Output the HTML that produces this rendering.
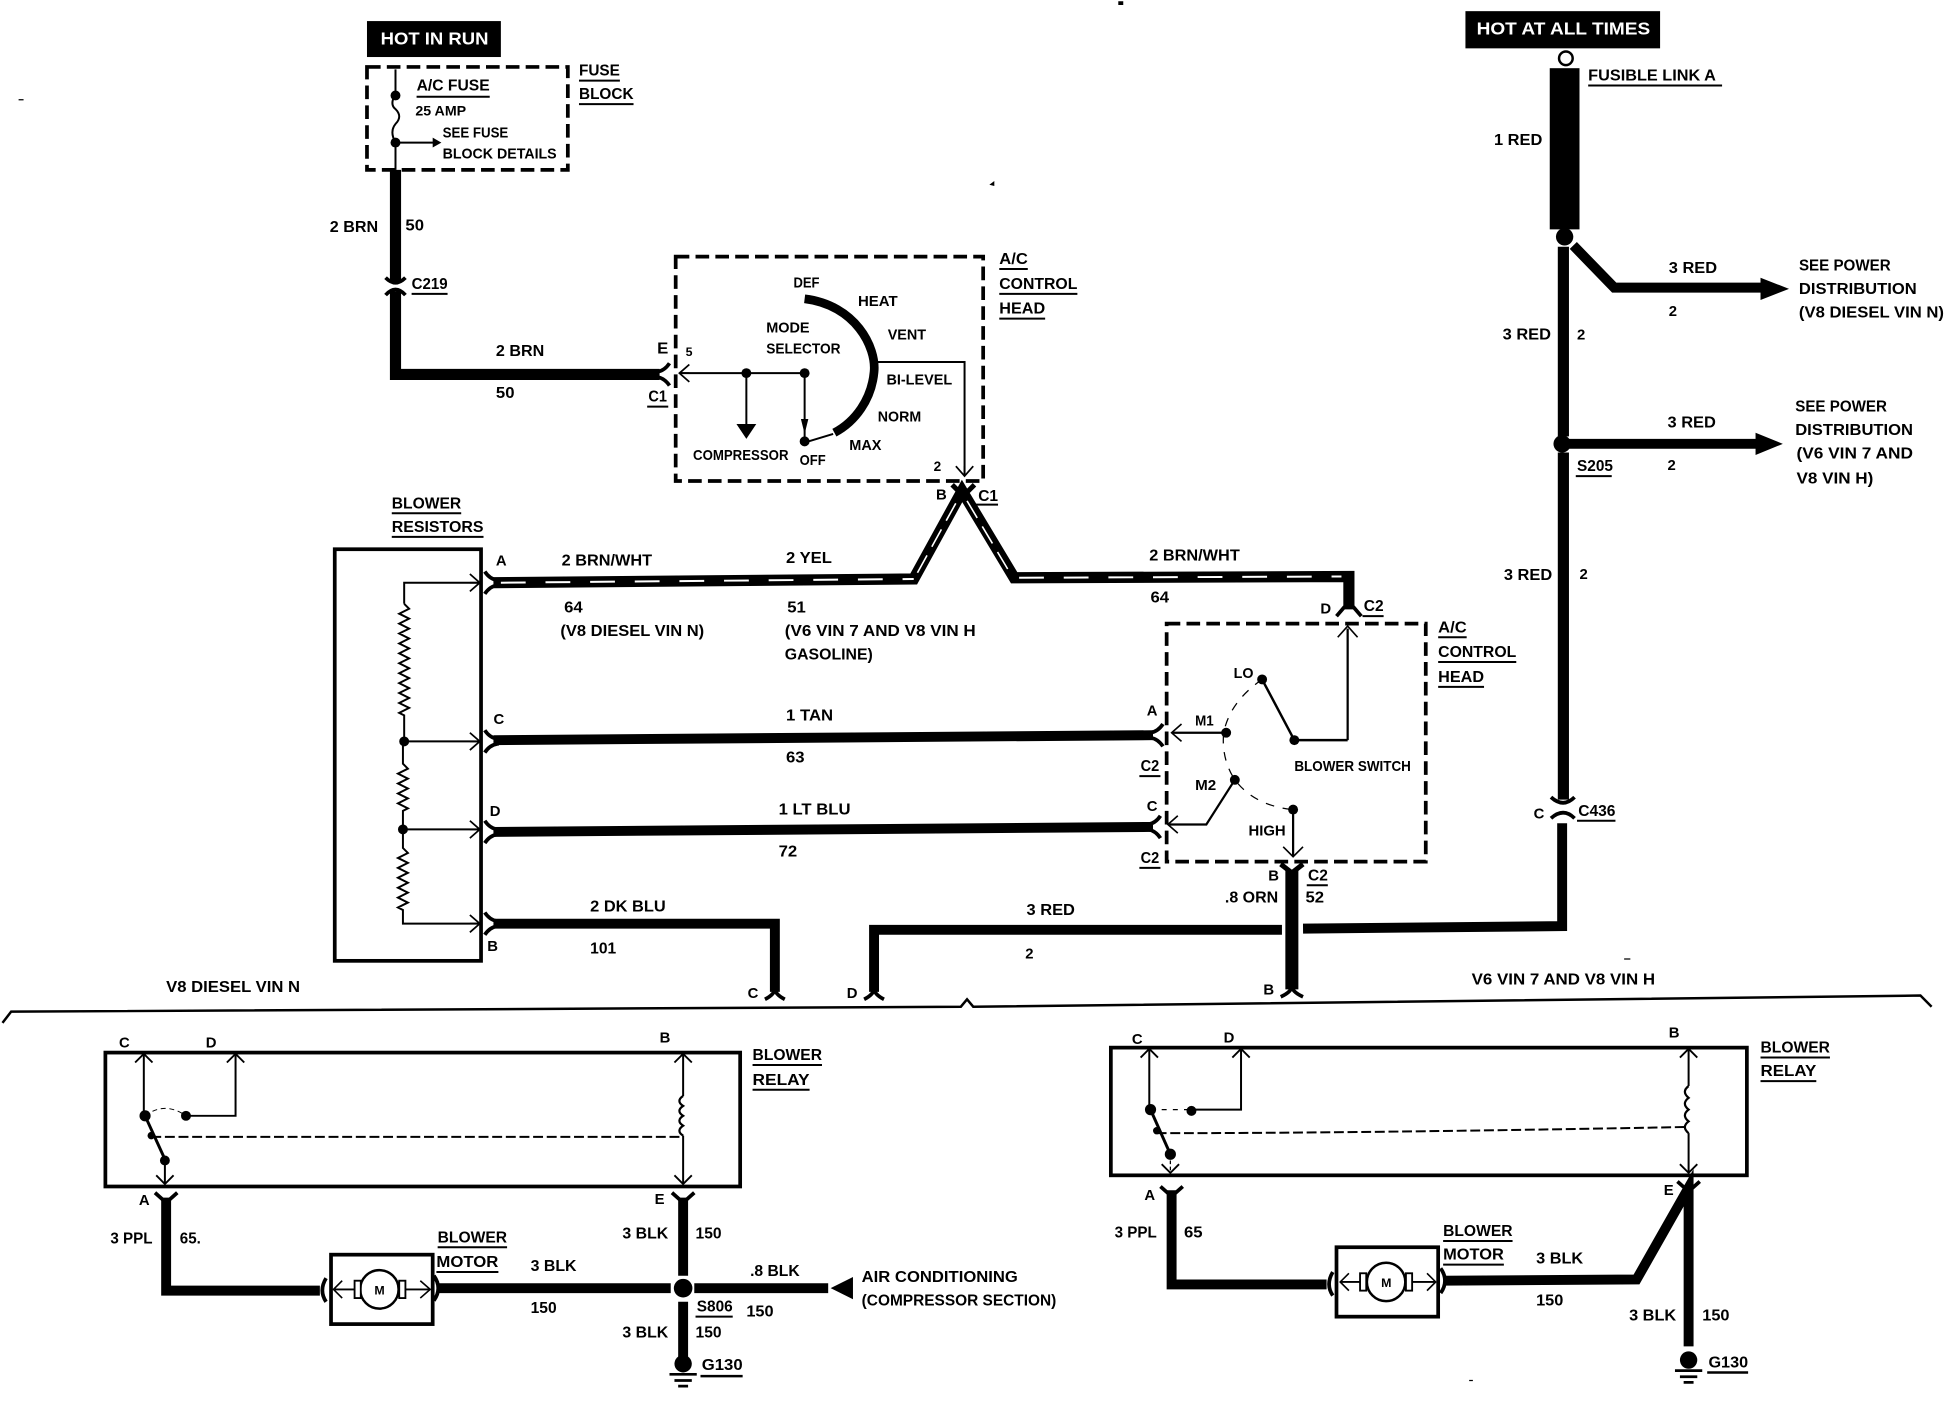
<!DOCTYPE html>
<html><head><meta charset="utf-8"><style>
html,body{margin:0;padding:0;background:#fff}
svg{display:block}
text{font-family:"Liberation Sans",sans-serif;font-weight:bold;font-size:13px;fill:#000}
.t{fill:none;stroke:#000;stroke-width:1.6}
.w{fill:none;stroke:#000;stroke-width:8;stroke-linejoin:miter}
.d{fill:none;stroke:#000;stroke-width:3;stroke-dasharray:11 5}
.b{fill:none;stroke:#000;stroke-width:3}
</style></head><body>
<svg width="1944" height="1408" viewBox="0 0 1568 1135.67" xmlns="http://www.w3.org/2000/svg">
<defs>
<g id="c"><path d="M5,-9 Q1,-3 -5,-2 L-5,2 Q1,3 5,9" fill="none" stroke="#000" stroke-width="3"/></g>
<g id="a"><path d="M-8,-7 L0,0 L-8,7 M-8,0 L0,0" fill="none" stroke="#000" stroke-width="1.4"/></g>
<g id="gnd"><circle r="7" fill="#000"/><path d="M-11,8.5 H11 M-7,13.5 H7 M-4,18 H4" stroke="#000" stroke-width="2.2"/></g>
</defs>

<!-- top-left -->
<rect x="296" y="17" width="108" height="29" fill="#000"/>
<text x="307" y="36" textLength="87" lengthAdjust="spacingAndGlyphs" style="fill:#fff;font-size:14px">HOT IN RUN</text>
<rect class="d" x="296" y="54" width="162" height="83"/>
<path class="t" d="M319,56 V76 M319,115 V137 M319,76 Q314,84 319,88 Q325,94 319,100 Q314,106 319,115 M319,115 H350"/>
<path d="M349,111 L356,115 L349,119Z"/>
<circle cx="319" cy="77" r="4"/><circle cx="319" cy="115" r="4"/>
<text x="336" y="73" textLength="59" lengthAdjust="spacingAndGlyphs">A/C FUSE</text><path class="t" d="M336,78 H395"/>
<text x="335" y="93" textLength="41" lengthAdjust="spacingAndGlyphs" style="font-size:11px">25 AMP</text>
<text x="357" y="111" textLength="53" lengthAdjust="spacingAndGlyphs" style="font-size:12px">SEE FUSE</text>
<text x="357" y="128" textLength="92" lengthAdjust="spacingAndGlyphs" style="font-size:12px">BLOCK DETAILS</text>
<text x="467" y="61" textLength="33" lengthAdjust="spacingAndGlyphs">FUSE</text><path class="t" d="M467,65 H500"/>
<text x="467" y="80" textLength="44" lengthAdjust="spacingAndGlyphs">BLOCK</text><path class="t" d="M467,84 H511"/>

<path class="w" d="M319,137 V227 M319,235 V302 H532" style="stroke-width:9"/>
<path d="M311,224 Q319,232 327,224 M311,238 Q319,229 327,238" fill="none" stroke="#000" stroke-width="3"/>
<use href="#c" transform="translate(535,302)"/>
<text x="266" y="187" textLength="39" lengthAdjust="spacingAndGlyphs">2 BRN</text>
<text x="327" y="186" textLength="15" lengthAdjust="spacingAndGlyphs">50</text>
<text x="332" y="233" textLength="29" lengthAdjust="spacingAndGlyphs">C219</text><path class="t" d="M332,237 H361"/>
<text x="400" y="287" textLength="39" lengthAdjust="spacingAndGlyphs">2 BRN</text>
<text x="400" y="321" textLength="15" lengthAdjust="spacingAndGlyphs">50</text>
<text x="530" y="285" textLength="9" lengthAdjust="spacingAndGlyphs">E</text>
<text x="553" y="287" style="font-size:10px">5</text>
<text x="523" y="324" textLength="15" lengthAdjust="spacingAndGlyphs">C1</text><path class="t" d="M522,328 H539"/>

<!-- A/C control head mode -->
<rect class="d" x="545" y="207" width="248" height="181"/>
<path d="M649,241 C690,246 707,280 705,300 C703,322 690,340 673,349" fill="none" stroke="#000" stroke-width="7"/>
<path class="t" d="M548,301 H649 M602,301 V345 M649,301 V356 M649,357 L672,350 M706,292 H778 V382"/>
<g transform="translate(548,301) rotate(180)"><use href="#a"/></g>
<path d="M594,342 H610 L602,354Z"/><path d="M646,338 H652 L649,350Z"/>
<circle cx="602" cy="301" r="4"/><circle cx="649" cy="301" r="4"/><circle cx="649" cy="356" r="4"/>
<g transform="translate(778,384) rotate(90)"><use href="#a"/></g>
<text x="640" y="232" textLength="21" lengthAdjust="spacingAndGlyphs" style="font-size:12px">DEF</text>
<text x="692" y="247" textLength="32" lengthAdjust="spacingAndGlyphs" style="font-size:12px">HEAT</text>
<text x="618" y="268" textLength="35" lengthAdjust="spacingAndGlyphs" style="font-size:12px">MODE</text>
<text x="618" y="285" textLength="60" lengthAdjust="spacingAndGlyphs" style="font-size:12px">SELECTOR</text>
<text x="716" y="274" textLength="31" lengthAdjust="spacingAndGlyphs" style="font-size:12px">VENT</text>
<text x="715" y="310" textLength="53" lengthAdjust="spacingAndGlyphs" style="font-size:12px">BI-LEVEL</text>
<text x="708" y="340" textLength="35" lengthAdjust="spacingAndGlyphs" style="font-size:12px">NORM</text>
<text x="685" y="363" textLength="26" lengthAdjust="spacingAndGlyphs" style="font-size:12px">MAX</text>
<text x="559" y="371" textLength="77" lengthAdjust="spacingAndGlyphs" style="font-size:12px">COMPRESSOR</text>
<text x="645" y="375" textLength="21" lengthAdjust="spacingAndGlyphs" style="font-size:12px">OFF</text>
<text x="753" y="380" style="font-size:11px">2</text>
<text x="806" y="213" textLength="23" lengthAdjust="spacingAndGlyphs">A/C</text><path class="t" d="M806,217 H829"/>
<text x="806" y="233" textLength="63" lengthAdjust="spacingAndGlyphs">CONTROL</text><path class="t" d="M806,237 H869"/>
<text x="806" y="253" textLength="37" lengthAdjust="spacingAndGlyphs">HEAD</text><path class="t" d="M806,257 H843"/>
<text x="755" y="403" style="font-size:12px">B</text>
<text x="789" y="404" textLength="16" lengthAdjust="spacingAndGlyphs">C1</text><path class="t" d="M787,407 H805"/>
<path d="M768,391 L777,400 L786,391" fill="none" stroke="#000" stroke-width="4"/>

<!-- striped wire -->
<path d="M398,470 L737,467 L776,396 L818,466 L1088,465 L1088,490" fill="none" stroke="#000" stroke-width="9"/>
<path d="M404,470 L737,467" fill="none" stroke="#fff" stroke-width="1.6" stroke-dasharray="20 16"/>
<path d="M740,462 L772,404 M780,404 L814,461" fill="none" stroke="#fff" stroke-width="1.3" stroke-dasharray="16 8"/>
<path d="M822,466 L1082,465" fill="none" stroke="#fff" stroke-width="1.6" stroke-dasharray="20 16"/>
<path d="M1078,497 L1084,490 H1092 L1098,497" fill="none" stroke="#000" stroke-width="3"/>
<text x="453" y="456" textLength="73" lengthAdjust="spacingAndGlyphs">2 BRN/WHT</text>
<text x="634" y="454" textLength="37" lengthAdjust="spacingAndGlyphs">2 YEL</text>
<text x="927" y="452" textLength="73" lengthAdjust="spacingAndGlyphs">2 BRN/WHT</text>
<text x="455" y="494" textLength="15" lengthAdjust="spacingAndGlyphs">64</text>
<text x="452" y="513" textLength="116" lengthAdjust="spacingAndGlyphs">(V8 DIESEL VIN N)</text>
<text x="635" y="494" textLength="15" lengthAdjust="spacingAndGlyphs">51</text>
<text x="633" y="513" textLength="154" lengthAdjust="spacingAndGlyphs">(V6 VIN 7 AND V8 VIN H</text>
<text x="633" y="532" textLength="71" lengthAdjust="spacingAndGlyphs">GASOLINE)</text>
<text x="928" y="486" textLength="15" lengthAdjust="spacingAndGlyphs">64</text>
<text x="1065" y="495" style="font-size:12px">D</text>
<text x="1100" y="493" textLength="16" lengthAdjust="spacingAndGlyphs">C2</text><path class="t" d="M1099,497 H1116"/>

<!-- resistors -->
<text x="316" y="410" textLength="56" lengthAdjust="spacingAndGlyphs">BLOWER</text><path class="t" d="M316,414 H372"/>
<text x="316" y="429" textLength="74" lengthAdjust="spacingAndGlyphs">RESISTORS</text><path class="t" d="M316,433 H390"/>
<rect class="b" x="270" y="443" width="118" height="332"/>
<path class="t" d="M387,470 H326 V487 M326,487 l4,4 l-8,4 l8,4 l-8,4 l8,4 l-8,4 l8,4 l-8,4 l8,4 l-8,4 l8,4 l-8,4 l8,4 l-8,4 l8,4 l-8,4 l8,4 l-8,4 l8,4 l-8,4 l8,4 l-8,4 l4,2 V598 H387 M325,598 V616 l4,4 l-8,4 l8,4 l-8,4 l8,4 l-8,4 l8,4 l-8,4 l8,4 l-4,2 V669 H387 M325,669 V684 l4,4 l-8,4 l8,4 l-8,4 l8,4 l-8,4 l8,4 l-8,4 l8,4 l-8,4 l8,4 l-8,4 l4,2 V745 H387"/>
<circle cx="326" cy="598" r="4"/><circle cx="325" cy="669" r="4"/>
<use href="#a" transform="translate(387,470)"/><use href="#a" transform="translate(387,598)"/><use href="#a" transform="translate(387,669)"/><use href="#a" transform="translate(387,745)"/>
<text x="400" y="456" style="font-size:12px">A</text>
<text x="398" y="584" style="font-size:12px">C</text>
<text x="395" y="658" style="font-size:12px">D</text>
<text x="393" y="767" style="font-size:12px">B</text>
<g transform="translate(396,470) rotate(180)"><use href="#c"/></g>
<g transform="translate(396,598) rotate(180)"><use href="#c"/></g>
<g transform="translate(396,671) rotate(180)"><use href="#c"/></g>
<g transform="translate(396,745) rotate(180)"><use href="#c"/></g>

<path class="w" d="M398,597 L930,593 M398,671 L930,667 M398,745 H625 V800" />
<use href="#c" transform="translate(933,593)"/><use href="#c" transform="translate(931,667)"/>
<text x="634" y="581" textLength="38" lengthAdjust="spacingAndGlyphs">1 TAN</text>
<text x="634" y="615" textLength="15" lengthAdjust="spacingAndGlyphs">63</text>
<text x="628" y="657" textLength="58" lengthAdjust="spacingAndGlyphs">1 LT BLU</text>
<text x="628" y="691" textLength="15" lengthAdjust="spacingAndGlyphs">72</text>
<text x="476" y="735" textLength="61" lengthAdjust="spacingAndGlyphs">2 DK BLU</text>
<text x="476" y="769" textLength="21" lengthAdjust="spacingAndGlyphs">101</text>
<text x="925" y="577" style="font-size:12px">A</text>
<text x="920" y="622" textLength="15" lengthAdjust="spacingAndGlyphs">C2</text><path class="t" d="M919,626 H936"/>
<text x="925" y="654" style="font-size:12px">C</text>
<text x="920" y="696" textLength="15" lengthAdjust="spacingAndGlyphs">C2</text><path class="t" d="M919,700 H936"/>

<!-- blower switch -->
<rect class="d" x="941" y="503" width="209" height="192"/>
<path d="M1087,597 H1044 L1018,548" fill="none" stroke="#000" stroke-width="2"/>
<path d="M1087,597 V507 M989,591 H946 M996,629 L973,665 H943 M1043,653 V690" fill="none" stroke="#000" stroke-width="1.8"/>
<path d="M1079,514 L1087,505 L1095,514 M953,584 L945,591 L953,598 M950,658 L942,665 L950,672 M1035,683 L1043,691 L1051,683" fill="none" stroke="#000" stroke-width="1.3"/>
<path d="M1018,548 Q992,566 987,591 Q985,612 996,629 Q1012,650 1043,653" fill="none" stroke="#000" stroke-width="1" stroke-dasharray="7 7"/>
<circle cx="1018" cy="548" r="4"/><circle cx="989" cy="591" r="4"/><circle cx="1044" cy="597" r="4"/><circle cx="996" cy="629" r="4"/><circle cx="1043" cy="653" r="4"/>
<text x="995" y="547" textLength="16" lengthAdjust="spacingAndGlyphs" style="font-size:12px">LO</text>
<text x="964" y="585" textLength="15" lengthAdjust="spacingAndGlyphs" style="font-size:12px">M1</text>
<text x="964" y="637" textLength="17" lengthAdjust="spacingAndGlyphs" style="font-size:12px">M2</text>
<text x="1044" y="622" textLength="94" lengthAdjust="spacingAndGlyphs" style="font-size:12px">BLOWER SWITCH</text>
<text x="1007" y="674" textLength="30" lengthAdjust="spacingAndGlyphs" style="font-size:12px">HIGH</text>
<text x="1160" y="510" textLength="23" lengthAdjust="spacingAndGlyphs">A/C</text><path class="t" d="M1160,514 H1183"/>
<text x="1160" y="530" textLength="63" lengthAdjust="spacingAndGlyphs">CONTROL</text><path class="t" d="M1160,534 H1223"/>
<text x="1160" y="550" textLength="37" lengthAdjust="spacingAndGlyphs">HEAD</text><path class="t" d="M1160,554 H1197"/>
<text x="1023" y="710" style="font-size:12px">B</text>
<text x="1055" y="710" textLength="16" lengthAdjust="spacingAndGlyphs">C2</text><path class="t" d="M1054,714 H1071"/>
<text x="988" y="728" textLength="43" lengthAdjust="spacingAndGlyphs">.8 ORN</text>
<text x="1053" y="728" textLength="15" lengthAdjust="spacingAndGlyphs">52</text>
<path d="M1033,697 L1042,704 L1051,697" fill="none" stroke="#000" stroke-width="4"/>

<!-- lower run -->
<path class="w" d="M705,800 V750 H1034 M1051,749 L1260,747 V664"/>
<path class="w" style="stroke-width:10.5" d="M1042,702 V798"/>
<path d="M697,806 Q705,802 705,797 Q705,802 713,806 M617,806 Q625,802 625,797 Q625,802 633,806 M1033,804 Q1042,800 1042,795 Q1042,800 1051,804" fill="none" stroke="#000" stroke-width="3"/>
<text x="828" y="738" textLength="39" lengthAdjust="spacingAndGlyphs">3 RED</text>
<text x="827" y="773" style="font-size:12px">2</text>
<text x="603" y="805" style="font-size:12px">C</text>
<text x="683" y="805" style="font-size:12px">D</text>
<text x="1019" y="802" style="font-size:12px">B</text>

<!-- right side -->
<rect x="1182" y="9" width="157" height="30" fill="#000"/>
<text x="1191" y="28" textLength="140" lengthAdjust="spacingAndGlyphs" style="fill:#fff;font-size:14px">HOT AT ALL TIMES</text>
<circle cx="1263" cy="47" r="5.5" fill="none" stroke="#000" stroke-width="2"/>
<rect x="1250" y="55" width="24" height="130"/>
<circle cx="1262" cy="191" r="7"/>
<text x="1281" y="65" textLength="103" lengthAdjust="spacingAndGlyphs">FUSIBLE LINK A</text><path class="t" d="M1281,69 H1389"/>
<text x="1205" y="117" textLength="39" lengthAdjust="spacingAndGlyphs">1 RED</text>
<path class="w" style="stroke-width:9" d="M1261,199 V352 M1261,365 V645"/>
<path class="w" d="M1269,198 L1302,232 H1422 M1262,358 H1418"/>
<path d="M1420,224 L1443,233 L1420,242Z M1416,349 L1438,358 L1416,367Z"/>
<circle cx="1260" cy="358" r="7"/>
<path d="M1251,643 Q1261,652 1270,643 M1251,660 Q1261,651 1270,660" fill="none" stroke="#000" stroke-width="3"/>
<text x="1346" y="220" textLength="39" lengthAdjust="spacingAndGlyphs">3 RED</text>
<text x="1346" y="255" style="font-size:12px">2</text>
<text x="1451" y="218" textLength="74" lengthAdjust="spacingAndGlyphs">SEE POWER</text>
<text x="1451" y="237" textLength="95" lengthAdjust="spacingAndGlyphs">DISTRIBUTION</text>
<text x="1451" y="256" textLength="117" lengthAdjust="spacingAndGlyphs">(V8 DIESEL VIN N)</text>
<text x="1212" y="274" textLength="39" lengthAdjust="spacingAndGlyphs">3 RED</text>
<text x="1272" y="274" style="font-size:12px">2</text>
<text x="1345" y="345" textLength="39" lengthAdjust="spacingAndGlyphs">3 RED</text>
<text x="1345" y="379" style="font-size:12px">2</text>
<text x="1448" y="332" textLength="74" lengthAdjust="spacingAndGlyphs">SEE POWER</text>
<text x="1448" y="351" textLength="95" lengthAdjust="spacingAndGlyphs">DISTRIBUTION</text>
<text x="1449" y="370" textLength="94" lengthAdjust="spacingAndGlyphs">(V6 VIN 7 AND</text>
<text x="1449" y="390" textLength="62" lengthAdjust="spacingAndGlyphs">V8 VIN H)</text>
<text x="1272" y="380" textLength="29" lengthAdjust="spacingAndGlyphs">S205</text><path class="t" d="M1271,384 H1300"/>
<text x="1213" y="468" textLength="39" lengthAdjust="spacingAndGlyphs">3 RED</text>
<text x="1274" y="467" style="font-size:12px">2</text>
<text x="1237" y="660" style="font-size:12px">C</text>
<text x="1273" y="658" textLength="30" lengthAdjust="spacingAndGlyphs">C436</text><path class="t" d="M1272,662 H1303"/>

<!-- divider -->
<path d="M2,825 L9,816 L775,812 L780,806 L785,812 L1549,803 L1558,812" fill="none" stroke="#000" stroke-width="2"/>
<text x="134" y="800" textLength="108" lengthAdjust="spacingAndGlyphs">V8 DIESEL VIN N</text>
<text x="1187" y="794" textLength="148" lengthAdjust="spacingAndGlyphs">V6 VIN 7 AND V8 VIN H</text>

<!-- left relay -->
<rect class="b" x="85" y="849" width="512" height="108"/>
<path class="t" d="M116,851 V900 M150,900 H190 V851 M551,851 V884 M551,916 V955 M133,935 V955"/>
<path d="M117,900 L133,935" fill="none" stroke="#000" stroke-width="2.4"/>
<path d="M551,884 q-6,4 0,8 q-6,4 0,8 q-6,4 0,8 q-6,4 0,8" fill="none" stroke="#000" stroke-width="1.8"/>
<path d="M122,917 H549" stroke="#000" stroke-width="1.6" stroke-dasharray="8 3" fill="none"/>
<path d="M117,900 Q133,888 150,900" fill="none" stroke="#000" stroke-width=".8" stroke-dasharray="4 3"/>
<circle cx="117" cy="900" r="4.5"/><circle cx="150" cy="900" r="4"/><circle cx="122" cy="916" r="3"/><circle cx="133" cy="936" r="4"/>
<path d="M109,857 L116,850 L123,857 M183,857 L190,850 L197,857 M544,857 L551,850 L558,857 M126,948 L133,955 L140,948 M544,948 L551,955 L558,948" fill="none" stroke="#000" stroke-width="1.5"/>
<text x="96" y="845" style="font-size:12px">C</text>
<text x="166" y="845" style="font-size:12px">D</text>
<text x="532" y="841" style="font-size:12px">B</text>
<text x="607" y="855" textLength="56" lengthAdjust="spacingAndGlyphs">BLOWER</text><path class="t" d="M607,859 H663"/>
<text x="607" y="875" textLength="46" lengthAdjust="spacingAndGlyphs">RELAY</text><path class="t" d="M607,879 H653"/>
<path class="w" d="M134,966 V1041 H258 M354,1039 H541 M560,1039 H668 M551,966 V1029 M551,1050 V1098"/>
<path d="M125,962 L134,970 L143,962 M542,962 L551,970 L560,962" fill="none" stroke="#000" stroke-width="3"/>
<path d="M263,1031 Q257,1041 263,1050 M350,1029 Q357,1039 350,1049" fill="none" stroke="#000" stroke-width="3"/>
<circle cx="551" cy="1039" r="7.5"/>
<use href="#gnd" transform="translate(551,1100)"/>
<rect class="b" x="267" y="1012" width="82" height="56"/>
<circle cx="306" cy="1040" r="15.5" fill="#fff" stroke="#000" stroke-width="2"/>
<text x="302" y="1044" style="font-size:10px">M</text>
<path d="M270,1040 H286 M327,1040 H346" stroke="#000" stroke-width="1.5" fill="none"/>
<rect x="286" y="1033" width="5" height="14" fill="#fff" stroke="#000" stroke-width="1.5"/>
<rect x="322" y="1033" width="5" height="14" fill="#fff" stroke="#000" stroke-width="1.5"/>
<path d="M276,1033 L269,1040 L276,1047 M339,1033 L347,1040 L339,1047" fill="none" stroke="#000" stroke-width="1.3"/>
<text x="112" y="972" style="font-size:12px">A</text>
<text x="528" y="971" style="font-size:12px">E</text>
<text x="89" y="1003" textLength="34" lengthAdjust="spacingAndGlyphs">3 PPL</text>
<text x="145" y="1003" textLength="17" lengthAdjust="spacingAndGlyphs">65.</text>
<text x="353" y="1002" textLength="56" lengthAdjust="spacingAndGlyphs">BLOWER</text><path class="t" d="M353,1006 H409"/>
<text x="352" y="1022" textLength="50" lengthAdjust="spacingAndGlyphs">MOTOR</text><path class="t" d="M352,1026 H402"/>
<text x="428" y="1025" textLength="37" lengthAdjust="spacingAndGlyphs">3 BLK</text>
<text x="428" y="1059" textLength="21" lengthAdjust="spacingAndGlyphs">150</text>
<text x="502" y="999" textLength="37" lengthAdjust="spacingAndGlyphs">3 BLK</text>
<text x="561" y="999" textLength="21" lengthAdjust="spacingAndGlyphs">150</text>
<text x="605" y="1029" textLength="40" lengthAdjust="spacingAndGlyphs">.8 BLK</text>
<text x="602" y="1062" textLength="22" lengthAdjust="spacingAndGlyphs">150</text>
<text x="562" y="1058" textLength="29" lengthAdjust="spacingAndGlyphs">S806</text><path class="t" d="M561,1062 H591"/>
<text x="502" y="1079" textLength="37" lengthAdjust="spacingAndGlyphs">3 BLK</text>
<text x="561" y="1079" textLength="21" lengthAdjust="spacingAndGlyphs">150</text>
<text x="566" y="1105" textLength="33" lengthAdjust="spacingAndGlyphs">G130</text><path class="t" style="stroke-width:2" d="M565,1110 H599"/>
<path d="M670,1039 L688,1030 V1048Z"/>
<text x="695" y="1034" textLength="126" lengthAdjust="spacingAndGlyphs">AIR CONDITIONING</text>
<text x="695" y="1053" textLength="157" lengthAdjust="spacingAndGlyphs">(COMPRESSOR SECTION)</text>

<!-- right relay -->
<rect class="b" x="896" y="845" width="513" height="103"/>
<path class="t" d="M927,847 V895 M961,895 H1001 V847 M1362,847 V876 M1362,914 V946"/>
<path d="M944,931 V946" fill="none" stroke="#000" stroke-width="1" stroke-dasharray="3 2"/>
<path d="M928,895 L944,931" fill="none" stroke="#000" stroke-width="2.4"/>
<path d="M1362,876 q-6,4.5 0,9.5 q-6,4.5 0,9.5 q-6,4.5 0,9.5 q-6,4.5 0,9.5" fill="none" stroke="#000" stroke-width="1.8"/>
<path d="M933,914 Q1100,914 1360,909" stroke="#000" stroke-width="1.6" stroke-dasharray="8 3" fill="none"/>
<path d="M928,895 H961" fill="none" stroke="#000" stroke-width="1" stroke-dasharray="4 5"/>
<circle cx="928" cy="895" r="4.5"/><circle cx="961" cy="896" r="4"/><circle cx="933" cy="912" r="3"/><circle cx="944" cy="931" r="4.5"/>
<path d="M920,853 L927,846 L934,853 M994,853 L1001,846 L1008,853 M1355,853 L1362,846 L1369,853 M937,939 L944,946 L951,939 M1355,939 L1362,946 L1369,939" fill="none" stroke="#000" stroke-width="1.5"/>
<text x="913" y="842" style="font-size:12px">C</text>
<text x="987" y="841" style="font-size:12px">D</text>
<text x="1346" y="837" style="font-size:12px">B</text>
<text x="1420" y="849" textLength="56" lengthAdjust="spacingAndGlyphs">BLOWER</text><path class="t" d="M1420,853 H1476"/>
<text x="1420" y="868" textLength="45" lengthAdjust="spacingAndGlyphs">RELAY</text><path class="t" d="M1420,872 H1465"/>
<path class="w" d="M945,960 V1036 H1070 M1165,1033 L1320,1032 L1362,958 V1086"/>
<path d="M936,957 L945,965 L954,957 M1353,953 L1362,961 L1371,953" fill="none" stroke="#000" stroke-width="3"/>
<path d="M1075,1026 Q1069,1036 1075,1045 M1162,1023 Q1169,1033 1162,1043" fill="none" stroke="#000" stroke-width="3"/>
<use href="#gnd" transform="translate(1362,1097)"/>
<rect class="b" x="1078" y="1006" width="82" height="56"/>
<circle cx="1118" cy="1034" r="15.5" fill="#fff" stroke="#000" stroke-width="2"/>
<text x="1114" y="1038" style="font-size:10px">M</text>
<path d="M1081,1034 H1098 M1139,1034 H1157" stroke="#000" stroke-width="1.5" fill="none"/>
<rect x="1097" y="1027" width="5" height="14" fill="#fff" stroke="#000" stroke-width="1.5"/>
<rect x="1134" y="1027" width="5" height="14" fill="#fff" stroke="#000" stroke-width="1.5"/>
<path d="M1088,1027 L1081,1034 L1088,1041 M1151,1027 L1158,1034 L1151,1041" fill="none" stroke="#000" stroke-width="1.3"/>
<text x="923" y="968" style="font-size:12px">A</text>
<text x="1342" y="964" style="font-size:12px">E</text>
<text x="899" y="998" textLength="34" lengthAdjust="spacingAndGlyphs">3 PPL</text>
<text x="955" y="998" textLength="15" lengthAdjust="spacingAndGlyphs">65</text>
<text x="1164" y="997" textLength="56" lengthAdjust="spacingAndGlyphs">BLOWER</text><path class="t" d="M1164,1001 H1220"/>
<text x="1164" y="1016" textLength="49" lengthAdjust="spacingAndGlyphs">MOTOR</text><path class="t" d="M1164,1020 H1213"/>
<text x="1239" y="1019" textLength="38" lengthAdjust="spacingAndGlyphs">3 BLK</text>
<text x="1239" y="1053" textLength="22" lengthAdjust="spacingAndGlyphs">150</text>
<text x="1314" y="1065" textLength="38" lengthAdjust="spacingAndGlyphs">3 BLK</text>
<text x="1373" y="1065" textLength="22" lengthAdjust="spacingAndGlyphs">150</text>
<text x="1378" y="1103" textLength="32" lengthAdjust="spacingAndGlyphs">G130</text><path class="t" style="stroke-width:2" d="M1377,1107 H1410"/>

<!-- specks -->
<path d="M902,1 h4 v3 h-4z M798,149 l4,-3 v4z M15,80 h4 v1 h-4z M1185,1113 h3 v1 h-3z M1310,773 h5 v1 h-5z" />
</svg>
</body></html>
